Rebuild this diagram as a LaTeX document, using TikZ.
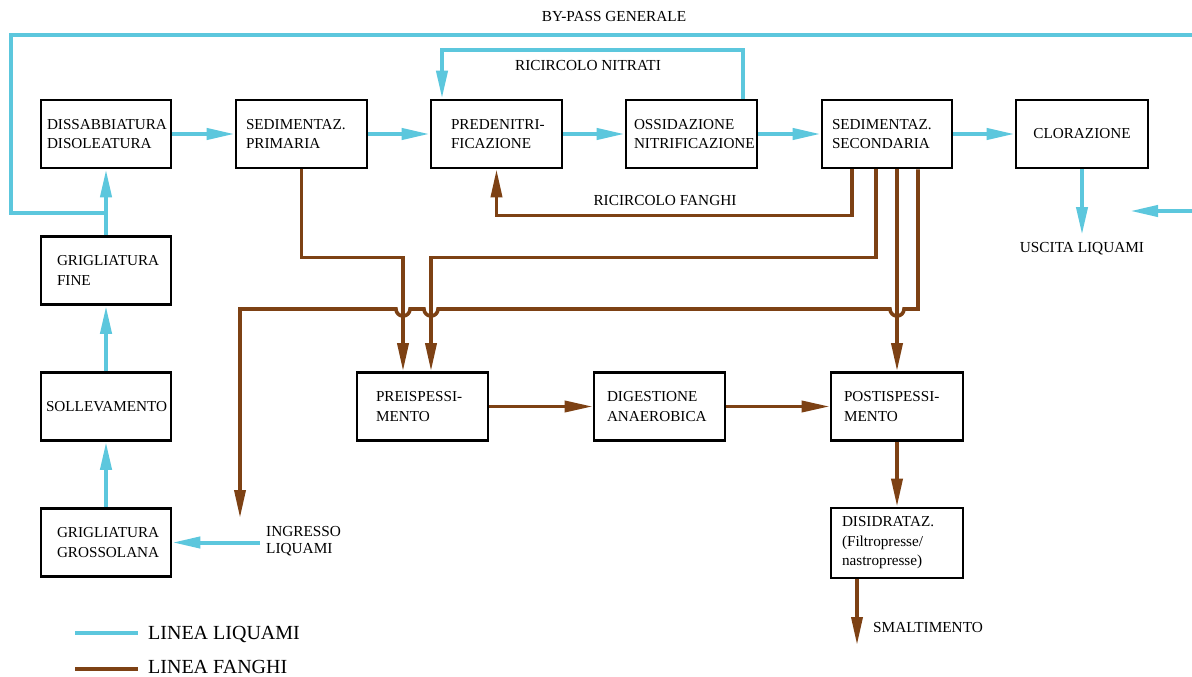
\documentclass[tikz,border=0pt]{standalone}
\usepackage{fontspec}
\setmainfont{Liberation Serif}
\usetikzlibrary{arrows.meta}
\definecolor{liq}{RGB}{92,199,221}
\definecolor{fan}{RGB}{125,65,20}
\newcommand{\bfnt}{\fontsize{15.2}{19.5}\selectfont}
\newcommand{\lfnt}{\fontsize{15.3}{17}\selectfont}
\newcommand{\gfnt}{\fontsize{20}{23}\selectfont}
\tikzset{
 tri/.tip={Triangle[length=28pt,width=11pt]},
 box/.style={draw,line width=2.6pt,minimum height=68pt,inner ysep=0pt,align=left,font=\bfnt},
 liqline/.style={draw=liq,line width=4pt},
 fanline/.style={draw=fan,line width=3.6pt},
 lab/.style={font=\lfnt,inner sep=0pt},
 leg/.style={font=\gfnt,inner sep=0pt,anchor=west}
}
\begin{document}
\begin{tikzpicture}[x=1pt,y=-1pt]
\useasboundingbox (0,0) rectangle (1192,677);
% boxes
\node[box,inner xsep=6pt,text width=118pt] (dis) at (106,134) {DISSABBIATURA\\DISOLEATURA};
\node[box,inner xsep=10pt,text width=111pt] (sedp) at (301.5,134) {SEDIMENTAZ.\\PRIMARIA};
\node[box,inner xsep=12pt,text width=107pt] (pred) at (496.5,134) {\hspace*{8pt}PREDENITRI-\\\hspace*{8pt}FICAZIONE};
\node[box,inner xsep=8pt,text width=115pt] (ossi) at (691.5,134) {OSSIDAZIONE\\NITRIFICAZIONE};
\node[box,inner xsep=10pt,text width=110pt] (seds) at (887,134) {SEDIMENTAZ.\\SECONDARIA};
\node[box,inner xsep=10pt,text width=112pt,align=center] (clor) at (1082,134) {CLORAZIONE};
\node[box,inner xsep=16pt,text width=98pt] (grf) at (106,270.5) {GRIGLIATURA\\FINE};
\node[box,inner xsep=5pt,text width=120pt] (sol) at (106,406.5) {SOLLEVAMENTO};
\node[box,inner xsep=16pt,text width=98pt] (grg) at (106,542.5) {GRIGLIATURA\\GROSSOLANA};
\node[box,inner xsep=12pt,text width=107pt] (preisp) at (422.5,406.5) {\hspace*{7pt}PREISPESSI-\\\hspace*{7pt}MENTO};
\node[box,inner xsep=13pt,text width=105pt] (dig) at (659.5,406.5) {DIGESTIONE\\ANAEROBICA};
\node[box,inner xsep=13pt,text width=106pt] (post) at (897,406.5) {POSTISPESSI-\\MENTO};
\node[box,inner xsep=11pt,text width=110pt,minimum height=70pt] (disid) at (897,543) {DISIDRATAZ.\\(Filtropresse/\\nastropresse)};
% free ends
\coordinate (bpR) at (1192,35);
\coordinate (bpL) at (11,213);
\coordinate (bpJ) at (106,213);
\coordinate (ing) at (260,542.5);
\coordinate (usc) at (1082,235);
\coordinate (rin) at (1192,211);
\coordinate (rtip) at (1130,211);
\coordinate (ingA) at (240,518);
\coordinate (smalt) at (857,645);
% liquami
\draw[liqline] (bpR) -| (bpL) -- (bpJ);
\draw[liqline,-tri] (grg) -- (sol);
\draw[liqline,-tri] (sol) -- (grf);
\draw[liqline,-tri] (grf) -- (dis);
\draw[liqline,-tri] (ing) -- (grg);
\draw[liqline,-tri] (dis) -- (sedp);
\draw[liqline,-tri] (sedp) -- (pred);
\draw[liqline,-tri] (pred) -- (ossi);
\draw[liqline,-tri] (ossi) -- (seds);
\draw[liqline,-tri] (seds) -- (clor);
\draw[liqline,-tri] ([xshift=51.5pt]ossi.north) -- ++(0,-49) -| ([xshift=-54.5pt]pred.north);
\draw[liqline,-tri] (clor) -- (usc);
\draw[liqline,-tri] (rin) -- (rtip);
% fanghi
\draw[fanline,-tri] ([xshift=-35pt]seds.south) -- ++(0,46) -| (pred.south);
\draw[fanline,-tri] (sedp.south) -- ++(0,88) -| ([xshift=-19.5pt]preisp.north);
\draw[fanline,-tri] ([xshift=-11pt]seds.south) -- ++(0,88) -| ([xshift=8.5pt]preisp.north);
\draw[fanline,-tri] ([xshift=10pt]seds.south) -- (post.north);
\draw[fanline,-tri] ([xshift=31pt]seds.south) |- (904,309)
   arc[start angle=0,end angle=180,radius=7] -- (438,309)
   arc[start angle=0,end angle=180,radius=7] -- (410,309)
   arc[start angle=0,end angle=180,radius=7] -- (240,309) -- (ingA);
\draw[fanline,-tri] (preisp) -- (dig);
\draw[fanline,-tri] (dig) -- (post);
\draw[fanline,-tri] (post) -- (disid);
\draw[fanline,-tri] ([xshift=-40pt]disid.south) -- (smalt);
% labels
\node[lab] (lbp) at (614,17) {BY-PASS GENERALE};
\node[lab] (lrn) at (588,66) {RICIRCOLO NITRATI};
\node[lab] (lrf) at (665,201) {RICIRCOLO FANGHI};
\node[lab] (lus) at (1082,249) {USCITA LIQUAMI};
\node[lab,anchor=west,align=left] (lin) at (266,541) {INGRESSO\\LIQUAMI};
\node[lab,anchor=west] (lsm) at (873,628) {SMALTIMENTO};
% legend
\coordinate (g1a) at (75,633); \coordinate (g1b) at (138,633);
\coordinate (g2a) at (75,669); \coordinate (g2b) at (138,669);
\draw[liqline] (g1a) -- (g1b);
\draw[fanline,line width=4pt] (g2a) -- (g2b);
\node[leg] (lg1) at (148,634) {LINEA LIQUAMI};
\node[leg] (lg2) at (148,667) {LINEA FANGHI};
\end{tikzpicture}
\end{document}
